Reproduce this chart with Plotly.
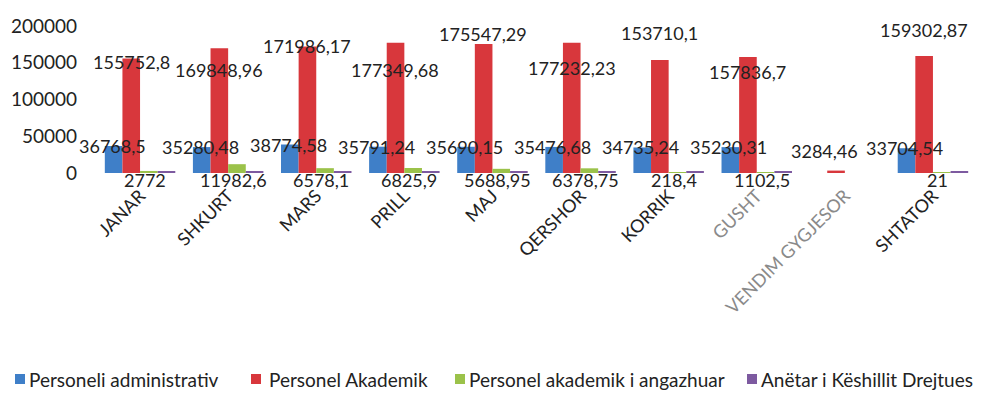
import plotly.graph_objects as go

months = ["JANAR", "SHKURT", "MARS", "PRILL", "MAJ", "QERSHOR", "KORRIK",
          "GUSHT", "VENDIM GYGJESOR", "SHTATOR"]

admin = [36768.5, 35280.48, 38774.58, 35791.24, 35690.15, 35476.68, 34735.24,
         35230.31, None, 33704.54]
akademik = [155752.8, 169848.96, 171986.17, 177349.68, 175547.29, 177232.23,
            153710.1, 157836.7, 3284.46, 159302.87]
angazhuar = [2772, 11982.6, 6578.1, 6825.9, 5688.95, 6378.75, 218.4, 1102.5,
             None, 21]
keshilli = [1500, 1500, 1500, 1500, 1500, 1500, 1500, 1500, None, 1500]

series_names = ["Personeli administrativ", "Personel Akademik",
                "Personel akademik i angazhuar", "Anëtar i Këshillit Drejtues"]

y_ticks = [0, 50000, 100000, 150000, 200000]

# ---- styles / layout constants ----
colors = ["#3f7fc8", "#d8373c", "#9bc24a", "#7d5aa0"]
FONT = "Lato"
red_label_dy = [-3, -22, 1, -27, 10, -25, 27, -15, 20, 26]
red_label_dx = [-9, -9, -9, -9, -9, -9, -9, -9, -20, -9]
faded = {"GUSHT", "VENDIM GYGJESOR"}

W, H = 974, 385
ML, MR, MT, MB = 88, 5, 18, 220
PW, PH = W - ML - MR, H - MT - MB
legend_sym_x = [7, 243, 447, 739]     # px, left edge of legend squares
legend_txt_x = [19, 259, 459, 751]    # px, start of legend texts
legend_y = 371                        # px, legend centre line
SYM = 10


def px_x(px):
    return (px - ML) / PW


def px_y(py):
    return (MT + PH - py) / PH


def fmt(v):
    return str(v).replace(".", ",")


fig = go.Figure()
for name, vals, col in zip(series_names, [admin, akademik, angazhuar, keshilli], colors):
    fig.add_trace(go.Bar(x=months, y=vals, name=name, marker_color=col,
                         marker_line_width=0))

annotations = []
for i, m in enumerate(months):
    if admin[i] is not None:
        annotations.append(dict(x=m, y=admin[i], text=fmt(admin[i]), xshift=-28,
                                yshift=0, yanchor="middle", showarrow=False))
    if akademik[i] is not None:
        annotations.append(dict(x=m, y=akademik[i], text=fmt(akademik[i]),
                                xshift=red_label_dx[i], yshift=red_label_dy[i],
                                yanchor="middle", showarrow=False))
    if angazhuar[i] is not None:
        annotations.append(dict(x=m, y=0, text=fmt(angazhuar[i]), xshift=5,
                                yshift=-7, yanchor="middle", showarrow=False))

# custom legend (one row, as in the reference)
shapes = []
for name, col, sx, tx in zip(series_names, colors, legend_sym_x, legend_txt_x):
    shapes.append(dict(type="rect", xref="paper", yref="paper",
                       x0=px_x(sx), x1=px_x(sx + SYM),
                       y0=px_y(legend_y + SYM / 2), y1=px_y(legend_y - SYM / 2),
                       fillcolor=col, line_width=0))
    annotations.append(dict(xref="paper", yref="paper", x=px_x(tx), y=px_y(legend_y),
                            xanchor="left", yanchor="middle", text=name,
                            showarrow=False, font=dict(size=19, family=FONT)))

ticktext = [f"<span style='color:#8a8a8a'>{m}</span>" if m in faded else m for m in months]

fig.update_layout(
    width=W, height=H,
    margin=dict(l=ML, r=MR, t=MT, b=MB, autoexpand=False),
    paper_bgcolor="white", plot_bgcolor="white",
    barmode="group", bargap=0.2, bargroupgap=0,
    font=dict(family=FONT, size=18, color="#222222"),
    annotations=annotations,
    shapes=shapes,
    showlegend=False,
    xaxis=dict(tickmode="array", tickvals=months, ticktext=ticktext,
               range=[-0.5, len(months) - 0.5],
               tickangle=-45, showgrid=False, zeroline=False, showline=False,
               automargin=False, ticklabelstandoff=8, tickfont=dict(size=18)),
    yaxis=dict(range=[0, 200000], tickvals=y_ticks,
               ticktext=[str(t) for t in y_ticks], showgrid=False,
               zeroline=False, showline=False, automargin=False,
               ticklabelstandoff=18, tickfont=dict(size=19)),
)

fig.write_html("out.html")
